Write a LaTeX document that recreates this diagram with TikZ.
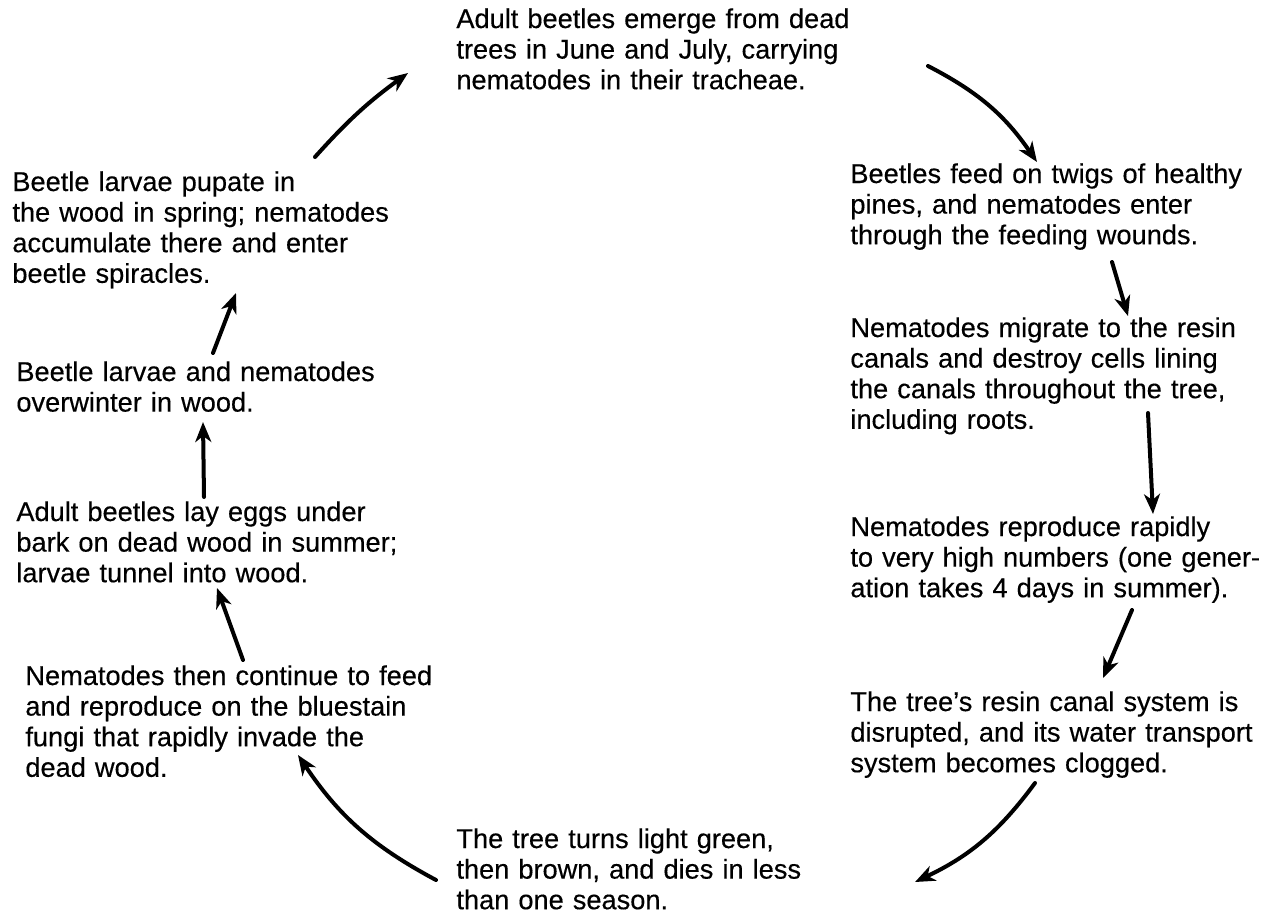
\documentclass[tikz,border=0pt]{standalone}
\usepackage{fontspec}
\setmainfont{Liberation Sans}
\newfontfamily\stagefont[FakeBold=0.35, Ligatures=TeX]{Liberation Sans}
\usetikzlibrary{arrows.meta}

\begin{document}
\begin{tikzpicture}[x=0.5pt, y=-0.5pt,
    stage/.style={anchor=base west, inner sep=0pt, text width=230pt, align=left,
                  font=\stagefont\fontsize{13.6pt}{15.3pt}\selectfont},
    cycle/.style={line width=2pt, line cap=round,
                  -{Stealth[length=10pt, width=8pt, inset=3pt]}},
]
    \useasboundingbox (0,0) rectangle (1273,916);

    % stages of the cycle
    \node[stage] (emerge) at (456,28) {Adult beetles emerge from dead\\trees in June and July, carrying\\nematodes in their tracheae.};
    \node[stage] (feed) at (850,183) {Beetles feed on twigs of healthy\\pines, and nematodes enter\\through the feeding wounds.};
    \node[stage] (migrate) at (850,337) {Nematodes migrate to the resin\\canals and destroy cells lining\\the canals throughout the tree,\\including roots.};
    \node[stage] (reproduce) at (850,536) {Nematodes reproduce rapidly\\to very high numbers (one gener-\\ation takes 4 days in summer).};
    \node[stage] (disrupt) at (850,711) {The tree’s resin canal system is\\disrupted, and its water transport\\system becomes clogged.};
    \node[stage] (dies) at (456,848) {The tree turns light green,\\then brown, and dies in less\\than one season.};
    \node[stage] (fungi) at (25,685) {Nematodes then continue to feed\\and reproduce on the bluestain\\fungi that rapidly invade the\\dead wood.};
    \node[stage] (eggs) at (16,521) {Adult beetles lay eggs under\\bark on dead wood in summer;\\larvae tunnel into wood.};
    \node[stage] (overwinter) at (16,381) {Beetle larvae and nematodes\\overwinter in wood.};
    \node[stage] (pupate) at (12,191) {Beetle larvae pupate in\\the wood in spring; nematodes\\accumulate there and enter\\beetle spiracles.};

    % arrow ends
    \coordinate (a1s) at (315,157);   \coordinate (a1e) at (408,73);
    \coordinate (a2s) at (928,66);    \coordinate (a2e) at (1037,162);
    \coordinate (a3s) at (1112,262);  \coordinate (a3e) at (1128,316);
    \coordinate (a4s) at (1148,413);  \coordinate (a4e) at (1153,514);
    \coordinate (a5s) at (1132,610);  \coordinate (a5e) at (1103,678);
    \coordinate (a6s) at (1035,783);  \coordinate (a6e) at (915,882);
    \coordinate (a7s) at (436,880);   \coordinate (a7e) at (298,755);
    \coordinate (a8s) at (243,660);   \coordinate (a8e) at (217,588);
    \coordinate (a9s) at (204,497);   \coordinate (a9e) at (203,422);
    \coordinate (a10s) at (213,353);  \coordinate (a10e) at (236,293);

    \draw[cycle] (a1s) to[bend left=6] (a1e);
    \draw[cycle] (a2s) to[bend left=14] (a2e);
    \draw[cycle] (a3s) -- (a3e);
    \draw[cycle] (a4s) -- (a4e);
    \draw[cycle] (a5s) -- (a5e);
    \draw[cycle] (a6s) to[bend left=14] (a6e);
    \draw[cycle] (a7s) to[bend left=14] (a7e);
    \draw[cycle] (a8s) -- (a8e);
    \draw[cycle] (a9s) -- (a9e);
    \draw[cycle] (a10s) -- (a10e);
\end{tikzpicture}
\end{document}
